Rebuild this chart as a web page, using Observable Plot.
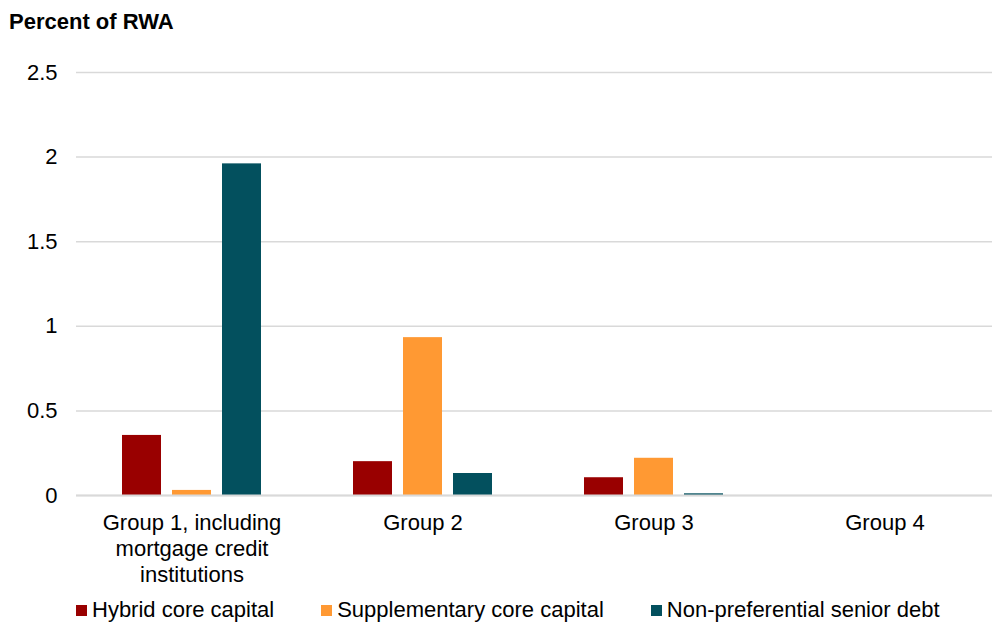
<!DOCTYPE html>
<html>
<head>
<meta charset="utf-8">
<script src="https://cdn.jsdelivr.net/npm/d3@7"></script>
<script src="https://cdn.jsdelivr.net/npm/@observablehq/plot@0.6"></script>
<style>
  html, body { margin: 0; padding: 0; background: #fff; overflow: hidden; }
  #chart { position: relative; width: 992px; height: 624px; overflow: hidden; font-family: "Liberation Sans", Arial, sans-serif; color: #000; }
  #chart svg { position: absolute; left: 0; top: 0; max-width: none !important; }
  #title { position: absolute; left: 9px; top: 11px; font-size: 22px; font-weight: bold; line-height: 1; }
  #legend { position: absolute; left: 76px; top: 598px; display: flex; align-items: center; font-size: 22px; line-height: 24px; white-space: nowrap; }
  #legend .item { display: flex; align-items: center; margin-right: 47px; }
  #legend .sw { width: 11px; height: 11px; margin-right: 5px; }
</style>
</head>
<body>
<div id="chart">
  <div id="title">Percent of RWA</div>
  <div id="legend"></div>
</div>
<script>
// Categories and their wrapped axis labels
const groups = ["Group 1, including mortgage credit institutions", "Group 2", "Group 3", "Group 4"];
const groupLabels = ["Group 1, including\nmortgage credit\ninstitutions", "Group 2", "Group 3", "Group 4"];

// Series names and colours
const series = ["Hybrid core capital", "Supplementary core capital", "Non-preferential senior debt"];
const colors = ["#990000", "#FF9933", "#03505E"];

// Values per group, percent of RWA
const hybrid = [0.355, 0.20, 0.105, 0];
const supplementary = [0.03, 0.933, 0.22, 0];
const nonPreferential = [1.96, 0.13, 0.01, 0];

// Y axis ticks
const yTicks = [0, 0.5, 1, 1.5, 2, 2.5];
const yTickLabels = ["0", "0.5", "1", "1.5", "2", "2.5"];

const seriesValues = [hybrid, supplementary, nonPreferential];
const data = groups.flatMap((g, i) =>
  series.map((s, j) => ({group: g, series: s, value: seriesValues[j][i]}))
);

const chart = Plot.plot({
  width: 1000,
  height: 596,
  marginTop: 72,
  marginBottom: 101,
  marginLeft: 76,
  marginRight: 0,
  style: {fontFamily: "'Liberation Sans', Arial, sans-serif", fontSize: "22px", color: "#000", background: "transparent"},
  facet: {marginTop: 0, marginBottom: 0, marginLeft: 0, marginRight: 0},
  fx: {domain: groups, padding: 0, label: null},
  x: {domain: series, paddingInner: 0.216, paddingOuter: 0.873, axis: null},
  y: {domain: [0, 2.5], label: null},
  color: {domain: series, range: colors},
  marks: [
    Plot.gridY(yTicks, {stroke: "#d9d9d9", strokeOpacity: 1, strokeWidth: 1.5}),
    Plot.axisY(yTicks, {
      tickSize: 0,
      tickPadding: 19,
      tickFormat: d => yTickLabels[yTicks.indexOf(d)],
      label: null,
      fontSize: 22
    }),
    Plot.barY(data, {fx: "group", x: "series", y: "value", fill: "series"}),
    Plot.ruleY([0], {stroke: "#d9d9d9", strokeWidth: 2}),
    Plot.axisFx({
      anchor: "bottom",
      tickSize: 0,
      tickPadding: 16,
      tickFormat: d => groupLabels[groups.indexOf(d)],
      lineHeight: 1.18,
      fontSize: 22,
      label: null
    })
  ]
});

const root = document.getElementById("chart");
root.insertBefore(chart, root.firstChild);

// Legend built from the series and colour arrays
const legend = d3.select("#legend");
series.forEach((s, i) => {
  const item = legend.append("div").attr("class", "item");
  item.append("div").attr("class", "sw").style("background", colors[i]);
  item.append("span").text(s);
});
</script>
</body>
</html>
